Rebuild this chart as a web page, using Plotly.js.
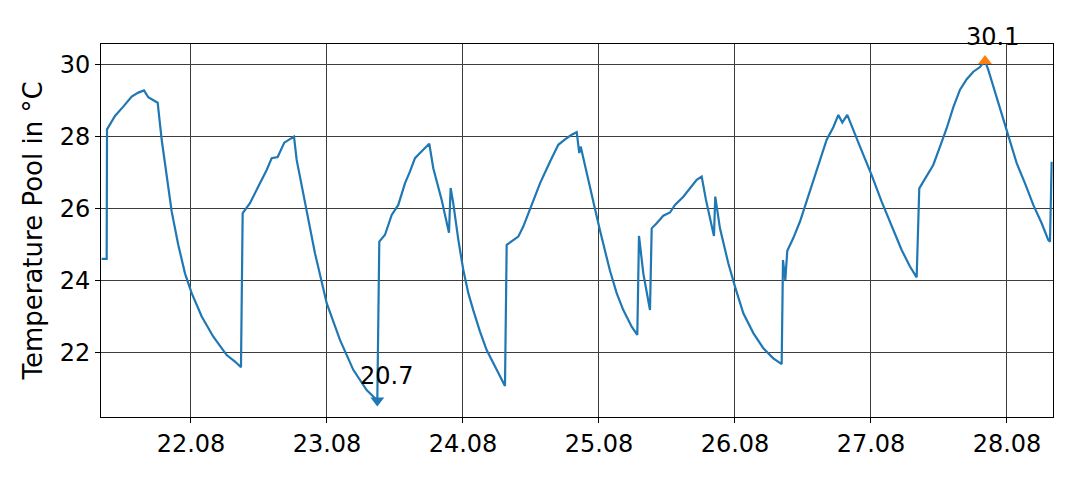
<!DOCTYPE html>
<html>
<head>
<meta charset="utf-8">
<script src="https://cdn.plot.ly/plotly-3.0.1.min.js"></script>
<style>
  html, body { margin: 0; padding: 0; background: white; }
  #chart { width: 1080px; height: 480px; }
</style>
</head>
<body>
<div id="chart"></div>
<script>
// hours since 21.08 00:00, pool temperature in °C
const hours = [
  8.24, 9.12, 9.18, 10.59, 12.05, 13.54, 14.70, 15.71, 16.46, 17.35, 18.12,
  18.83, 19.71, 20.59, 21.76, 22.94, 24.12, 25.89, 27.94, 30.30, 31.76, 32.82,
  33.12, 34.41, 35.88, 37.36, 38.24, 39.30, 40.46, 41.47, 42.18,
  42.65, 44.12, 45.88, 47.95, 50.29, 52.64, 55.00, 56.88,
  57.23, 58.24, 59.42, 60.58, 61.76, 62.65, 63.53, 64.41, 65.29, 66.05,
  66.76, 68.24, 69.53, 69.82, 70.28, 71.18, 72.05, 72.94, 73.81, 75.00, 76.18, 77.94, 79.41,
  79.71, 80.59, 81.76, 82.64, 83.82, 85.59, 87.35, 88.82, 90.00, 91.18, 92.07,
  92.52, 92.77, 93.12, 94.41, 95.30, 96.18, 97.94, 99.12, 100.29, 101.77, 102.76,
  103.06, 103.82, 105.00,
  105.30, 106.18, 107.35, 108.53, 109.41, 110.88, 112.06, 113.24, 114.12,
  114.88, 116.29, 116.52, 117.35, 118.82, 120.00, 121.47, 123.24, 125.00, 126.76, 128.24,
  128.47, 128.88, 129.23, 130.29, 131.47, 133.24, 135.00, 136.18, 137.35, 138.24,
  138.94, 139.82, 142.06, 144.12, 145.88, 147.93, 149.41, 150.88, 152.06,
  152.52, 153.82, 154.99, 156.18, 157.36, 158.52, 159.71, 160.89, 162.06, 163.24, 164.12,
  164.70, 165.59, 166.76, 168.22, 169.71, 171.18, 172.64, 174.12, 175.28, 175.59, 175.88
];
const temps = [
  24.61, 24.61, 28.21, 28.58, 28.84, 29.12, 29.23, 29.29, 29.10, 29.03, 28.95,
  27.92, 26.90, 25.93, 25.00, 24.21, 23.66, 23.01, 22.45, 21.94, 21.76, 21.60,
  25.88, 26.16, 26.62, 27.08, 27.41, 27.44, 27.84, 27.93, 28.01,
  27.36, 26.16, 24.77, 23.38, 22.36, 21.53, 20.97, 20.68,
  25.09, 25.28, 25.83, 26.11, 26.71, 27.04, 27.41, 27.55, 27.69, 27.81,
  27.13, 26.25, 25.34, 26.58, 26.16, 25.14, 24.31, 23.66, 23.19, 22.59, 22.08, 21.53, 21.08,
  25.00, 25.09, 25.23, 25.51, 25.97, 26.71, 27.31, 27.78, 27.93, 28.06, 28.13,
  27.55, 27.73, 27.50, 26.62, 26.00, 25.40, 24.28, 23.66, 23.19, 22.73, 22.50,
  25.25, 24.21, 23.19,
  25.46, 25.60, 25.81, 25.90, 26.11, 26.34, 26.57, 26.81, 26.90,
  26.25, 25.25, 26.34, 25.46, 24.49, 23.84, 23.10, 22.55, 22.13, 21.85, 21.69,
  24.58, 24.03, 24.84, 25.19, 25.65, 26.48, 27.36, 27.92, 28.27, 28.61,
  28.40, 28.61, 27.73, 26.94, 26.20, 25.42, 24.86, 24.40, 24.10,
  26.57, 26.90, 27.22, 27.73, 28.24, 28.82, 29.31, 29.60, 29.81, 29.94, 30.11,
  29.86, 29.40, 28.84, 28.06, 27.27, 26.71, 26.11, 25.60, 25.14, 25.09, 27.31
];

const startDay = Date.UTC(2023, 7, 21);
const toDate = h => new Date(startDay + h * 3600e3).toISOString().replace('T', ' ').slice(0, 19);
const times = hours.map(toDate);

const iMin = temps.indexOf(Math.min(...temps));
const iMax = temps.indexOf(Math.max(...temps));

const font = { family: 'DejaVu Sans', size: 24, color: 'black' };

const traces = [
  { x: times, y: temps, type: 'scatter', mode: 'lines',
    line: { color: '#1f77b4', width: 2.2 } },
  { x: [times[iMin]], y: [temps[iMin]], type: 'scatter', mode: 'markers',
    marker: { symbol: 'triangle-down', color: '#1f77b4', size: 12 } },
  { x: [times[iMax]], y: [temps[iMax]], type: 'scatter', mode: 'markers',
    marker: { symbol: 'triangle-up', color: '#ff7f0e', size: 12 } }
];

const layout = {
  width: 1080, height: 480,
  margin: { l: 101, r: 27, t: 44, b: 63 },
  showlegend: false,
  paper_bgcolor: 'white', plot_bgcolor: 'white',
  font: font,
  xaxis: {
    type: 'date',
    range: [toDate(8.12), toDate(176.12)],
    tick0: '2023-08-22', dtick: 86400000,
    tickformat: '%d.%m',
    ticks: 'outside', ticklen: 5, tickcolor: 'black',
    showgrid: true, gridcolor: '#3c3c3c', gridwidth: 1,
    showline: true, linecolor: 'black', linewidth: 1, mirror: true,
    zeroline: false, tickfont: font
  },
  yaxis: {
    range: [20.22, 30.58],
    tickvals: [22, 24, 26, 28, 30],
    ticks: 'outside', ticklen: 5, tickcolor: 'black',
    showgrid: true, gridcolor: '#3c3c3c', gridwidth: 1,
    showline: true, linecolor: 'black', linewidth: 1, mirror: true,
    zeroline: false, tickfont: font,
    title: { text: 'Temperature Pool in °C',
             font: { family: 'DejaVu Sans', size: 26, color: 'black' }, standoff: 9 }
  },
  annotations: [
    { x: times[iMin], y: temps[iMin], text: temps[iMin].toFixed(1), showarrow: false,
      xshift: 9, yshift: 24, font: font },
    { x: times[iMax], y: temps[iMax], text: temps[iMax].toFixed(1), showarrow: false,
      xshift: 7, yshift: 24, font: font }
  ]
};

Plotly.newPlot('chart', traces, layout, { displayModeBar: false, staticPlot: true });
</script>
</body>
</html>
